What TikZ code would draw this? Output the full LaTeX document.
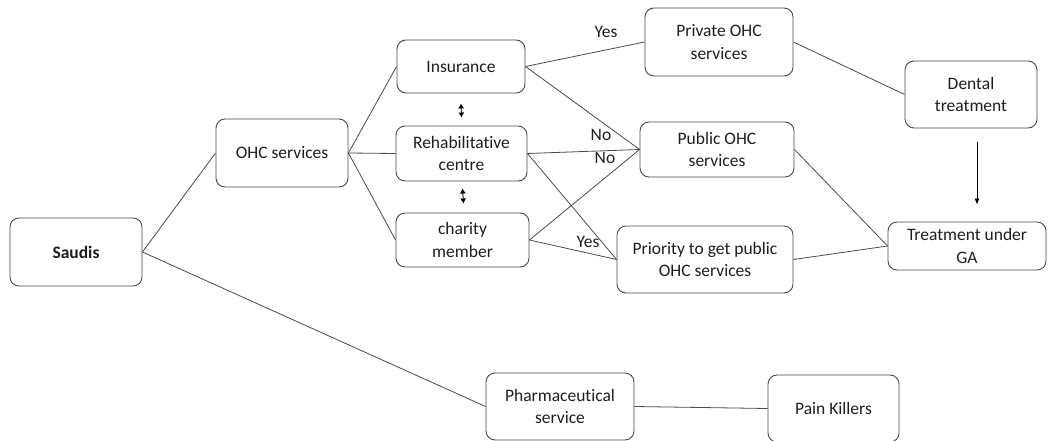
\documentclass[tikz,border=0pt]{standalone}
\usepackage{fontspec}
\setmainfont{Carlito}[Ligatures=NoCommon]
\usetikzlibrary{arrows.meta}
\definecolor{txt}{HTML}{1E1E1E}
\definecolor{edge}{HTML}{4A4A4A}
\begin{document}
\begin{tikzpicture}[x=1pt,y=-1pt,
  box/.style={draw=edge, line width=0.9pt, rounded corners=9pt, fill=white,
    align=center, inner sep=0pt, text=txt,
    font=\fontsize{17.5}{22.7}\selectfont},
  link/.style={draw=edge, line width=0.8pt},
  lbl/.style={text=txt, font=\fontsize{17.5}{22.7}\selectfont, inner sep=0pt},
  swap/.style={draw=black, line width=0.9pt, {Latex[length=5pt,width=6pt]}-{Latex[length=5pt,width=6pt]}}
]
\useasboundingbox (0,0) rectangle (1048,441);

% boxes: centre, width, height
\node[box, minimum width=132, minimum height=68] (saudis) at (76,252) {\bfseries Saudis};
\node[box, minimum width=132, minimum height=68] (ohc) at (282,153) {OHC services};
\node[box, minimum width=128, minimum height=53] (ins) at (461,66.5) {Insurance};
\node[box, minimum width=131, minimum height=55] (rehab) at (461.5,153.5) {Rehabilitative\\centre};
\node[box, minimum width=133, minimum height=54] (char) at (462.5,240) {charity\\member};
\node[box, minimum width=148, minimum height=68] (priv) at (719,42) {Private OHC\\services};
\node[box, minimum width=154, minimum height=55] (pub) at (717,149.5) {Public OHC\\services};
\node[box, minimum width=176, minimum height=67] (prio) at (705,259.5) {Priority to get public\\OHC services};
\node[box, minimum width=132, minimum height=67] (dent) at (971,94.5) {Dental\\treatment};
\node[box, minimum width=158, minimum height=48] (ga) at (967,246) {Treatment under\\GA};
\node[box, minimum width=148, minimum height=67] (pharm) at (560,406.5) {Pharmaceutical\\service};
\node[box, minimum width=131, minimum height=67] (pain) at (833.5,408.5) {Pain Killers};

% connectors
\draw[link] (saudis.east) -- (ohc.west);
\draw[link] (saudis.east) -- (pharm.west);
\draw[link] (ohc.east) -- (ins.west);
\draw[link] (ohc.east) -- (rehab.west);
\draw[link] (ohc.east) -- (char.west);
\draw[link] (ins.east) -- (priv.west);
\draw[link] (ins.east) -- (pub.west);
\draw[link] (rehab.east) -- (pub.west);
\draw[link] (rehab.east) -- (prio.west);
\draw[link] (char.east) -- (pub.west);
\draw[link] (char.east) -- (prio.west);
\draw[link] (priv.east) -- (dent.west);
\draw[link] (pub.east) -- (ga.west);
\draw[link] (prio.east) -- (ga.west);
\draw[link] (pharm.east) -- (pain.west);

% branch labels
\node[lbl] (yes1) at (606,32) {Yes};
\node[lbl] (no1) at (601,135) {No};
\node[lbl] (no2) at (605,158) {No};
\node[lbl] (yes2) at (588,242) {Yes};

% two-way arrows between the eligibility boxes
\draw[swap] ([yshift=-10pt]ins.south) -- ([yshift=8pt]rehab.north);
\draw[swap] ([xshift=1pt,yshift=-7pt]rehab.south) -- ([xshift=1pt,yshift=9pt]char.north);

% dental treatment leads to treatment under GA
\draw[draw=black, line width=0.8pt, -{Latex[length=6pt,width=5pt]}]
  ([xshift=6pt,yshift=-14pt]dent.south) -- ([xshift=10pt,yshift=17pt]ga.north);
\end{tikzpicture}
\end{document}
